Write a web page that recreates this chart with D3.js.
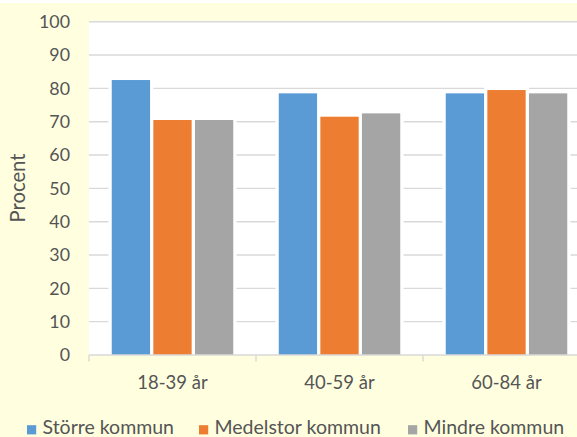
<!DOCTYPE html>
<html>
<head>
<meta charset="utf-8">
<script src="https://cdn.jsdelivr.net/npm/d3@7"></script>
<style>
  html, body { margin: 0; padding: 0; background: #ffffff; }
  svg { display: block; }
  text { font-family: "Lato", "Open Sans", sans-serif; fill: #555555; }
</style>
</head>
<body>
<div id="chart"></div>
<script>
// Age groups along the x axis
const categories = ["18-39 år", "40-59 år", "60-84 år"];
// Municipality size groups (one bar each per age group)
const seriesNames = ["Större kommun", "Medelstor kommun", "Mindre kommun"];
const seriesColors = ["#5B9BD5", "#ED7D31", "#A5A5A5"];
// Percent values, one array per series, in category order
const storre = [82.5, 78.5, 78.5];
const medelstor = [70.5, 71.5, 79.5];
const mindre = [70.5, 72.5, 78.5];
const yTicks = [0, 10, 20, 30, 40, 50, 60, 70, 80, 90, 100];
const yTitle = "Procent";

const seriesValues = [storre, medelstor, mindre];

const W = 577, H = 437;
const plot = { left: 89, right: 590, top: 21.7, bottom: 355 };

const svg = d3.select("#chart").append("svg")
  .attr("width", W).attr("height", H);

// Chart background
svg.append("rect").attr("x", 0).attr("y", 3).attr("width", W).attr("height", H - 3)
  .attr("fill", "#FFFFE0");
// Plot area
svg.append("rect")
  .attr("x", plot.left).attr("y", plot.top - 1)
  .attr("width", plot.right - plot.left).attr("height", plot.bottom - plot.top + 1)
  .attr("fill", "#ffffff");

const y = d3.scaleLinear().domain([0, 100]).range([plot.bottom, plot.top]);
const x0 = d3.scaleBand().domain(categories).range([plot.left, plot.right]).padding(0);
const x1 = d3.scaleBand().domain(seriesNames).range([0, x0.bandwidth()])
  .paddingInner(0.079).paddingOuter(0.547);

// Horizontal gridlines
svg.append("g").selectAll("line").data(yTicks.filter(t => t > 0)).join("line")
  .attr("x1", plot.left).attr("x2", plot.right)
  .attr("y1", d => y(d)).attr("y2", d => y(d))
  .attr("stroke", "#D9D9D9").attr("stroke-width", 1.4);

// Y axis labels
const yAxis = d3.axisLeft(y).tickValues(yTicks).tickSize(0).tickPadding(19);
const gy = svg.append("g").attr("transform", `translate(${plot.left},0)`).call(yAxis);
gy.select(".domain").remove();
gy.selectAll("text").style("font-size", "17.8px").attr("fill", "#555555")
  .style("font-family", "Lato, sans-serif");

// Bars: a white halo behind each bar, then the coloured fill
const rows = [];
categories.forEach((c, i) => {
  seriesNames.forEach((s, j) => rows.push({ cat: c, series: s, j, value: seriesValues[j][i] }));
});
const bars = svg.append("g");
bars.selectAll("rect.halo").data(rows).join("rect").attr("class", "halo")
  .attr("x", d => x0(d.cat) + x1(d.series) - 3.3)
  .attr("y", d => y(d.value) - 3.3)
  .attr("width", x1.bandwidth() + 6.6)
  .attr("height", d => y(0) - y(d.value) + 3.3)
  .attr("fill", "#ffffff");
bars.selectAll("rect.bar").data(rows).join("rect").attr("class", "bar")
  .attr("x", d => x0(d.cat) + x1(d.series))
  .attr("y", d => y(d.value))
  .attr("width", x1.bandwidth())
  .attr("height", d => y(0) - y(d.value))
  .attr("fill", d => seriesColors[d.j]);

// X axis: baseline, ticks at category boundaries, labels
svg.append("line")
  .attr("x1", plot.left).attr("x2", plot.right)
  .attr("y1", plot.bottom).attr("y2", plot.bottom)
  .attr("stroke", "#D9D9D9").attr("stroke-width", 1.4);
const boundaries = categories.map(c => x0(c)).concat([x0(categories[categories.length - 1]) + x0.bandwidth()]);
svg.append("g").selectAll("line").data(boundaries).join("line")
  .attr("x1", d => d).attr("x2", d => d)
  .attr("y1", plot.bottom).attr("y2", plot.bottom + 6.5)
  .attr("stroke", "#D9D9D9").attr("stroke-width", 1.4);
svg.append("g").selectAll("text").data(categories).join("text")
  .attr("x", d => x0(d) + x0.bandwidth() / 2)
  .attr("y", 389)
  .attr("text-anchor", "middle")
  .style("font-size", "18.5px")
  .text(d => d);

// Y axis title
svg.append("text")
  .attr("transform", `translate(25,188) rotate(-90)`)
  .attr("text-anchor", "middle")
  .style("font-size", "20.3px")
  .text(yTitle);

// Legend
const legendX = [27, 199, 408];
const legend = svg.append("g").selectAll("g").data(seriesNames).join("g")
  .attr("transform", (d, i) => `translate(${legendX[i]},434)`);
legend.append("rect")
  .attr("x", 0).attr("y", -8.8).attr("width", 9.2).attr("height", 9.2)
  .attr("fill", (d, i) => seriesColors[i]);
legend.append("text")
  .attr("x", 15.5).attr("y", 0)
  .style("font-size", "19.5px")
  .text(d => d);
</script>
</body>
</html>
